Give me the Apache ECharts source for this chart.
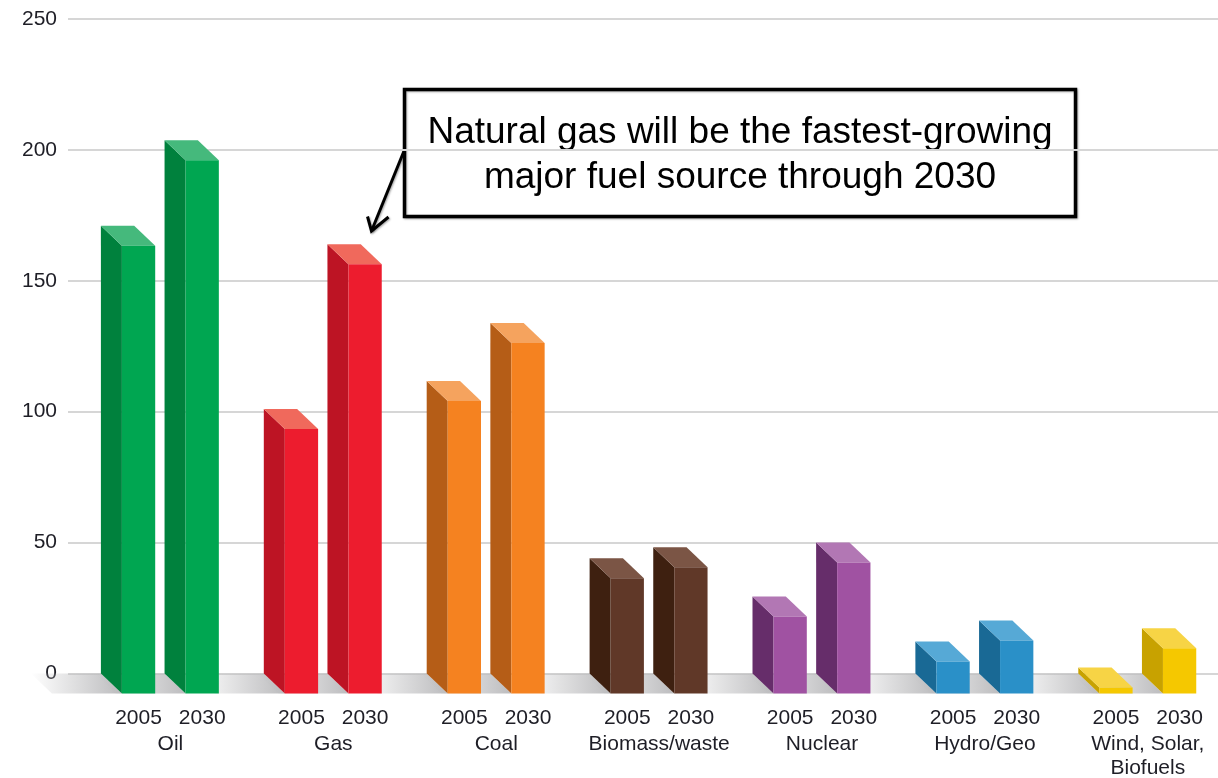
<!DOCTYPE html>
<html>
<head>
<meta charset="utf-8">
<title>World energy consumption by fuel, 2005 and 2030</title>
<script src="https://cdn.jsdelivr.net/npm/echarts@6/dist/echarts.min.js"></script>
<style>
  html, body { margin: 0; padding: 0; background: #ffffff; }
  #chart { width: 1218px; height: 778px; }
</style>
</head>
<body>
<div id="chart"></div>
<script>
// Fuel categories and consumption values (quadrillion Btu) for each year
const categories = ['Oil', 'Gas', 'Coal', 'Biomass/waste', 'Nuclear', 'Hydro/Geo', 'Wind, Solar,\nBiofuels'];
const years = ['2005', '2030'];
const values2005 = [171, 101, 111.7, 44, 29.4, 12.2, 2.3];
const values2030 = [203.7, 164, 133.9, 48.2, 50, 20.2, 17.3];

// Face colours per fuel: front, left side (shaded), top (lit)
const frontColors = ['#00a651', '#ed1c2e', '#f58220', '#603828', '#a052a2', '#2a90c8', '#f5c800'];
const sideColors  = ['#00813d', '#bd1424', '#b55d17', '#3e2010', '#662d6a', '#196995', '#c8a200'];
const topColors   = ['#45b97c', '#f0695c', '#f5a35e', '#7b5545', '#b277b4', '#56a9d6', '#f7d445'];

// Pseudo-3D depth of each column, in pixels
const DEPTH_X = 21;
const DEPTH_Y = 20;
// Column placement inside a category band (fractions of band width)
const BAR_OFFSET = [-0.298, 0.0927];
const BAR_WIDTH = 0.2044;

const barData = [];
[values2005, values2030].forEach(function (vals, yi) {
  vals.forEach(function (v, ci) { barData.push([ci, yi, v]); });
});

function barGeometry(api, ci, yi, v) {
  const band = api.size([1, 0])[0];
  const base = api.coord([ci, 0]);
  const top = api.coord([ci, v]);
  const left = base[0] + BAR_OFFSET[yi] * band;
  return { left: left, w: BAR_WIDTH * band, y0: base[1], yTop: top[1] };
}

function renderShadow(params, api) {
  const ci = api.value(0), yi = api.value(1), v = api.value(2);
  const g = barGeometry(api, ci, yi, v);
  const len = 70;
  return {
    type: 'polygon',
    shape: { points: [
      [g.left - len, g.y0], [g.left, g.y0],
      [g.left + DEPTH_X, g.y0 + DEPTH_Y], [g.left + DEPTH_X - len, g.y0 + DEPTH_Y]
    ] },
    style: {
      fill: new echarts.graphic.LinearGradient(0, 0, 1, 0, [
        { offset: 0, color: 'rgba(188,188,190,0)' },
        { offset: 1, color: 'rgba(188,188,190,1)' }
      ])
    }
  };
}

function renderBar(params, api) {
  const ci = api.value(0), yi = api.value(1), v = api.value(2);
  const g = barGeometry(api, ci, yi, v);
  const l = g.left, r = g.left + g.w, t = g.yTop, b = g.y0;
  const dx = DEPTH_X, dy = DEPTH_Y;
  return {
    type: 'group',
    children: [
      { type: 'polygon',
        shape: { points: [[l, t], [l + dx, t + dy], [l + dx, b + dy], [l, b]] },
        style: { fill: sideColors[ci] } },
      { type: 'polygon',
        shape: { points: [[l, t], [r, t], [r + dx, t + dy], [l + dx, t + dy]] },
        style: { fill: topColors[ci] } },
      { type: 'rect',
        shape: { x: l + dx, y: t + dy, width: g.w, height: b - t },
        style: { fill: frontColors[ci] } },
      { type: 'text',
        x: l + dx + g.w / 2, y: b + 44.5,
        style: { text: years[yi], fill: '#1e1e26', font: '21px "Liberation Sans", Arial, sans-serif',
                 align: 'center', verticalAlign: 'middle' } }
    ]
  };
}

function renderCategory(params, api) {
  const ci = api.value(0);
  const base = api.coord([ci, 0]);
  return {
    type: 'text',
    x: base[0] + DEPTH_X, y: base[1] + 59,
    style: { text: categories[ci], fill: '#1e1e26', font: '21px "Liberation Sans", Arial, sans-serif',
             align: 'center', verticalAlign: 'top', lineHeight: 24 }
  };
}

const chart = echarts.init(document.getElementById('chart'), null, { renderer: 'canvas' });
const plotLeft = 68;
const bandPx = 162.9;
const xMax = -0.5 + (1218 - plotLeft) / bandPx;

chart.setOption({
  animation: false,
  backgroundColor: '#ffffff',
  grid: { left: plotLeft, right: 0, top: 19, bottom: 104.5, containLabel: false },
  xAxis: {
    type: 'value', min: -0.5, max: xMax, show: false
  },
  yAxis: {
    type: 'value', min: 0, max: 250, interval: 50,
    axisLine: { show: false }, axisTick: { show: false },
    axisLabel: { color: '#1e1e26', fontSize: 21, fontFamily: '"Liberation Sans", Arial, sans-serif', margin: 11 },
    splitLine: { lineStyle: { color: '#d6d6d6', width: 2 } }
  },
  series: [
    { type: 'custom', name: 'shadow', renderItem: renderShadow, data: barData, z: 1, silent: true },
    { type: 'custom', name: 'bars', renderItem: renderBar, data: barData, z: 2 },
    { type: 'custom', name: 'categories', renderItem: renderCategory,
      data: categories.map(function (c, i) { return [i]; }), z: 2, silent: true }
  ],
  graphic: [
    { type: 'group', z: 10, children: [
      { type: 'polyline',
        shape: { points: [[404, 151], [371.5, 231]] },
        style: { stroke: '#000', lineWidth: 3, shadowBlur: 2, shadowColor: 'rgba(0,0,0,0.35)', shadowOffsetX: 1, shadowOffsetY: 1 } },
      { type: 'polyline',
        shape: { points: [[367.5, 216.5], [371.5, 231], [388.5, 217]] },
        style: { stroke: '#000', lineWidth: 3, fill: null, lineJoin: 'miter',
                 shadowBlur: 2, shadowColor: 'rgba(0,0,0,0.35)', shadowOffsetX: 1, shadowOffsetY: 1 } },
      { type: 'rect',
        shape: { x: 404.5, y: 89.5, width: 671, height: 127 },
        style: { fill: '#ffffff', stroke: '#000', lineWidth: 3.5,
                 shadowBlur: 2, shadowColor: 'rgba(0,0,0,0.3)', shadowOffsetX: 1, shadowOffsetY: 1 } },
      { type: 'text', x: 740, y: 133,
        style: { text: 'Natural gas will be the fastest-growing', fill: '#000',
                 font: '37px "Liberation Sans", Arial, sans-serif', align: 'center', verticalAlign: 'middle' } },
      { type: 'text', x: 740, y: 178,
        style: { text: 'major fuel source through 2030', fill: '#000',
                 font: '37px "Liberation Sans", Arial, sans-serif', align: 'center', verticalAlign: 'middle' } }
    ] }
  ]
});
</script>
</body>
</html>
